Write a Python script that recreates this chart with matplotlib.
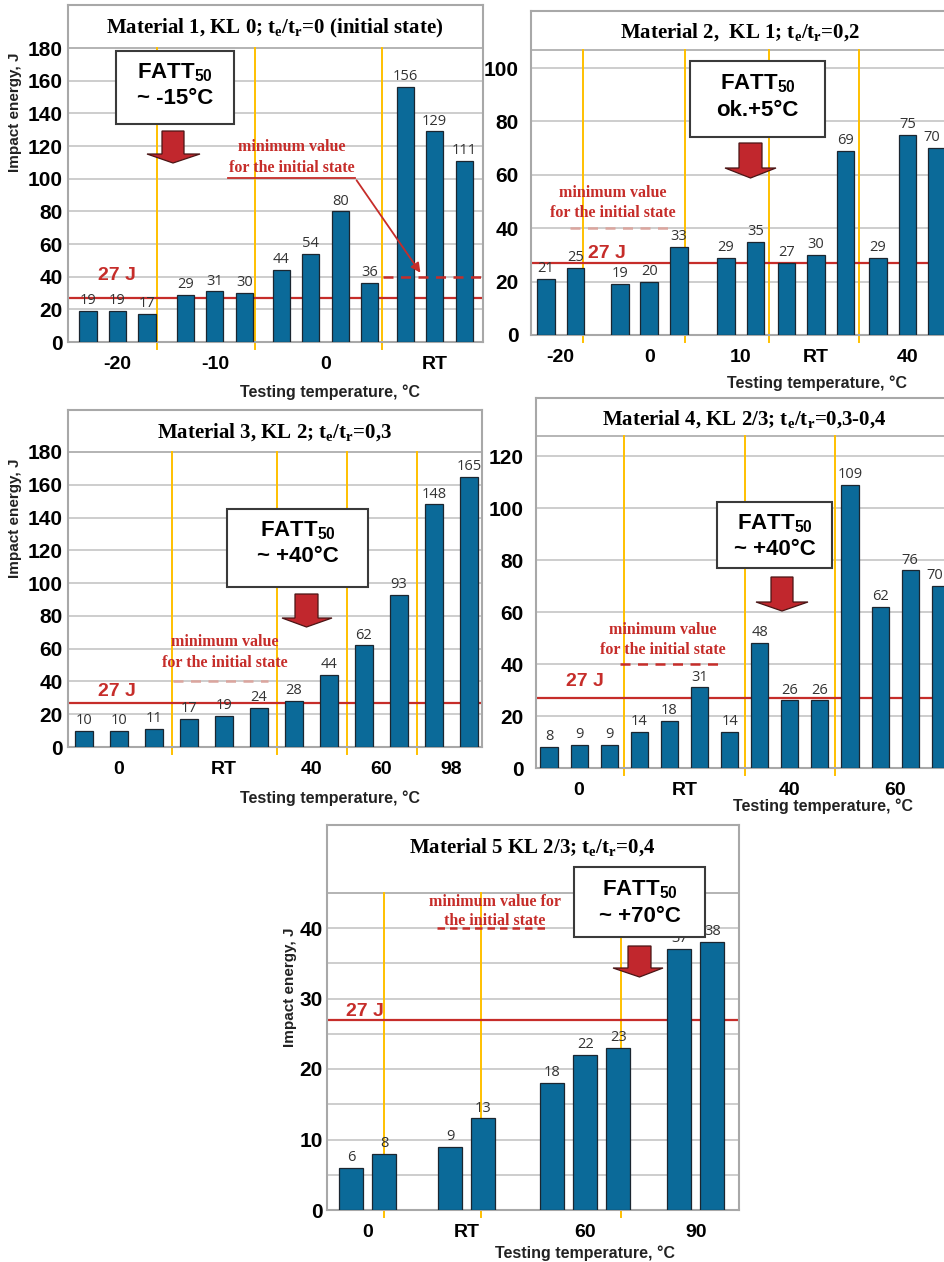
import matplotlib.pyplot as plt
from matplotlib.patches import Polygon, Rectangle

plt.rcParams['font.family'] = ['Liberation Sans', 'DejaVu Sans']
plt.rcParams['mathtext.fontset'] = 'custom'
plt.rcParams['mathtext.rm'] = 'Liberation Serif:bold'
plt.rcParams['mathtext.bf'] = 'Liberation Sans:bold'

W, H = 945, 1262

# impact energy per testing temperature, one inner list per temperature group
m1_temps = ["-20", "-10", "0", "RT"]
m1_energy = [[19, 19, 17], [29, 31, 30], [44, 54, 80, 36], [156, 129, 111]]

m2_temps = ["-20", "0", "10", "RT", "40"]
m2_energy = [[21, 25], [19, 20, 33], [29, 35], [27, 30, 69], [29, 75, 70]]

m3_temps = ["0", "RT", "40", "60", "98"]
m3_energy = [[10, 10, 11], [17, 19, 24], [28, 44], [62, 93], [148, 165]]

m4_temps = ["0", "RT", "40", "60"]
m4_energy = [[8, 9, 9], [14, 18, 31, 14], [48, 26, 26], [109, 62, 76, 70]]

m5_temps = ["0", "RT", "60", "90"]
m5_energy = [[6, 8], [9, 13], [18, 22, 23], [37, 38]]

titles = [r"Material 1, KL 0; $\mathrm{t_e/t_r}$=0 (initial state)",
          r"Material 2,  KL 1; $\mathrm{t_e/t_r}$=0,2",
          r"Material 3, KL 2; $\mathrm{t_e/t_r}$=0,3",
          r"Material 4, KL 2/3; $\mathrm{t_e/t_r}$=0,3-0,4",
          r"Material 5 KL 2/3; $\mathrm{t_e/t_r}$=0,4"]
fatt = ["~ -15°C", "ok.+5°C", "~ +40°C", "~ +40°C", "~ +70°C"]
min_text = ["minimum value\nfor the initial state"] * 4 + ["minimum value for\nthe initial state"]
limit_j = 27
initial_min = 40

BAR = '#0b6a99'
RED = '#c62d2a'
YEL = '#ffc000'
GRID = '#c9c9c9'
FRAME = '#a8a8a8'
serif = ['Liberation Serif', 'DejaVu Serif']

# pixel layout of each panel
panels = [
    dict(temps=m1_temps, energy=m1_energy, L=68, R=483, T=5, Z=342, ppu=1.633, top=180, step=20,
         yticks=range(0, 181, 20), x0=88, slot=29.5, gaps=[0.3, 0.25, 0.2], bw=0.58, ypad=4,
         title=(275, 28), box=(116, 51, 234, 124), fatt_y=(73, 99),
         arrow=(162, 184, 131, 154, 147, 200, 163), lab27=(117, 276),
         mtext=(292, 147, 168), mline=(383, 483), mcolor=RED, mdash=(4, 3),
         ylab=(15, 112), xlab=(330, 392)),
    dict(temps=m2_temps, energy=m2_energy, L=531, R=952, T=11, Z=335, ppu=2.67, top=106.7, step=20,
         yticks=range(0, 101, 20), x0=546, slot=29.5, gaps=[0.5, 0.6, 0.05, 0.1], bw=0.6, ypad=9,
         title=(740, 32), box=(690, 61, 825, 137), fatt_y=(84, 110),
         arrow=(739, 762, 143, 168, 725, 776, 178), lab27=(607, 253),
         mtext=(613, 193, 213), mline=(570, 670), mcolor='#dba59e', mdash=(4, 3),
         ylab=None, xlab=(817, 383)),
    dict(temps=m3_temps, energy=m3_energy, L=68, R=482, T=410, Z=747, ppu=1.639, top=180, step=20,
         yticks=range(0, 181, 20), x0=84, slot=35, gaps=[0, 0, 0, 0], bw=0.49, ypad=4,
         title=(275, 432), box=(227, 509, 368, 587), fatt_y=(531, 556),
         arrow=(295, 318, 594, 618, 282, 332, 627), lab27=(117, 692),
         mtext=(225, 642, 663), mline=(173, 268), mcolor='#dba59e', mdash=(4, 3),
         ylab=(15, 518), xlab=(330, 798)),
    dict(temps=m4_temps, energy=m4_energy, L=536, R=952, T=398, Z=768, ppu=2.6, top=127.7, step=20,
         yticks=range(0, 121, 20), x0=549, slot=30.1, gaps=[0, 0, 0], bw=0.57, ypad=9,
         title=(744, 419), box=(717, 502, 832, 568), fatt_y=(524, 549),
         arrow=(771, 793, 577, 602, 756, 808, 611), lab27=(585, 682),
         mtext=(663, 630, 650), mline=(620, 723), mcolor=RED, mdash=(4, 3),
         ylab=None, xlab=(823, 806)),
    dict(temps=m5_temps, energy=m5_energy, L=327, R=739, T=825, Z=1210, ppu=7.05, top=45, step=5,
         yticks=range(0, 41, 10), x0=351, slot=33, gaps=[1.0, 1.1, 0.85], bw=0.72, ypad=3,
         title=(532, 847), box=(574, 867, 705, 937), fatt_y=(890, 916),
         arrow=(628, 651, 946, 968, 613, 663, 977), lab27=(365, 1012),
         mtext=(495, 902, 921), mline=(437, 547), mcolor=RED, mdash=(3, 2),
         ylab=(290, 987), xlab=(585, 1253)),
]


def fx(px):
    return px / W


def fy(py):
    return 1 - py / H


fig = plt.figure(figsize=(W / 100, H / 100), dpi=100)

for i, p in enumerate(panels):
    ax = fig.add_axes([fx(p['L']), fy(p['Z']), (p['R'] - p['L']) / W, (p['Z'] - p['T']) / H])

    def dx(px, p=p):
        return (px - p['x0']) / p['slot']

    # bar positions: one slot per bar, extra gap between temperature groups
    pos, centers, seps = [], [], []
    x = 0.0
    for g, vals in enumerate(p['energy']):
        if g > 0:
            seps.append(x - 0.5 - p['gaps'][g - 1] / 2)
            x += p['gaps'][g - 1]
        grp = []
        for v in vals:
            grp.append(x)
            x += 1
        pos.append(grp)
        centers.append(sum(grp) / len(grp))

    ax.set_xlim(dx(p['L']), dx(p['R']))
    ax.set_ylim(0, (p['Z'] - p['T']) / p['ppu'])

    # horizontal grid up to the top of the plotting area
    yv = 0
    while yv <= p['top'] + 1e-6:
        ax.axhline(yv, color=GRID, lw=1.3, zorder=1)
        yv += p['step']
    ax.axhline(p['top'], color='#b5b5b5', lw=1.4, zorder=1)

    # separators between temperature groups
    below = -7 / p['ppu']
    for s in seps:
        ax.plot([s, s], [below, p['top']], color=YEL, lw=1.4, zorder=2, clip_on=False)

    ax.axhline(limit_j, color=RED, lw=1.6, zorder=2)

    # labels close to the right edge are pulled in a little so they stay inside the figure
    edge = dx(W - 14)
    for grp, vals in zip(pos, p['energy']):
        ax.bar(grp, vals, width=p['bw'], color=BAR, edgecolor='#1b2630', lw=0.9, zorder=3)
        for xb, v in zip(grp, vals):
            shift = -4 if xb > edge else 0
            ax.annotate(str(v), (xb, v), xytext=(shift, 2), textcoords='offset points',
                        ha='center', va='bottom', fontsize=10.5, color='#333333',
                        family=['Open Sans', 'DejaVu Sans'], zorder=5)

    # minimum value for the initial state
    ax.plot([dx(p['mline'][0]), dx(p['mline'][1])], [initial_min, initial_min],
            color=p['mcolor'], lw=1.8, dashes=p['mdash'], zorder=4)

    ax.set_xticks(centers)
    ax.set_xticklabels(p['temps'], fontsize=14, fontweight='bold')
    ax.set_yticks(list(p['yticks']))
    ax.set_yticklabels([str(t) for t in p['yticks']], fontsize=15, fontweight='bold')
    ax.tick_params(axis='x', length=0, pad=10)
    ax.tick_params(axis='y', length=0, pad=p['ypad'])
    for sp in ax.spines.values():
        sp.set_color(FRAME)
        sp.set_linewidth(1.5)

    fig.text(fx(p['title'][0]), fy(p['title'][1]), titles[i], ha='center', va='center',
             fontsize=15, fontweight='bold', family=serif)

    # FATT50 box with arrow
    bx0, by0, bx1, by1 = p['box']
    fig.add_artist(Rectangle((fx(bx0), fy(by1)), (bx1 - bx0) / W, (by1 - by0) / H,
                             transform=fig.transFigure, facecolor='white',
                             edgecolor='#3a3a3a', lw=1.5, zorder=6))
    cx = (bx0 + bx1) / 2
    fig.text(fx(cx), fy(p['fatt_y'][0]), r"$\mathbf{FATT_{50}}$", ha='center', va='center',
             fontsize=16, zorder=7)
    fig.text(fx(cx), fy(p['fatt_y'][1]), fatt[i], ha='center', va='center',
             fontsize=16, fontweight='bold', zorder=7)
    s0, s1, atop, ahead, h0, h1, tip = p['arrow']
    pts = [(s0, atop), (s1, atop), (s1, ahead), (h1, ahead), ((s0 + s1) / 2, tip),
           (h0, ahead), (s0, ahead)]
    fig.add_artist(Polygon([(fx(a), fy(b)) for a, b in pts], closed=True,
                           transform=fig.transFigure, facecolor='#c1272d',
                           edgecolor='#4a1515', lw=0.9, zorder=6))

    fig.text(fx(p['lab27'][0]), fy(p['lab27'][1]), "27 J", ha='center', va='center',
             fontsize=14, fontweight='bold', color=RED, zorder=7)
    mx, my1, my2 = p['mtext']
    for line, yy in zip(min_text[i].split("\n"), (my1, my2)):
        fig.text(fx(mx), fy(yy), line, ha='center', va='center', fontsize=11.5,
                 fontweight='bold', color=RED, family=serif, zorder=7)

    if p['ylab']:
        fig.text(fx(p['ylab'][0]), fy(p['ylab'][1]), "Impact energy, J", rotation=90,
                 ha='center', va='center', fontsize=11, fontweight='bold', color='#222222')
    fig.text(fx(p['xlab'][0]), fy(p['xlab'][1]), "Testing temperature, °C", ha='center',
             va='center', fontsize=11.5, fontweight='bold', color='#222222')

    if i == 0:
        # leader from the note down to the dashed level
        ax.plot([dx(228), dx(355)], [(p['Z'] - 178) / p['ppu']] * 2, color=RED, lw=1.3, zorder=4)
        ax.annotate("", xy=(dx(422), initial_min + 1), xytext=(dx(355), (p['Z'] - 178) / p['ppu']),
                    arrowprops=dict(arrowstyle='-|>', color=RED, lw=1.3, mutation_scale=14),
                    zorder=4)

fig.savefig("out.png", dpi=100, facecolor='white')
